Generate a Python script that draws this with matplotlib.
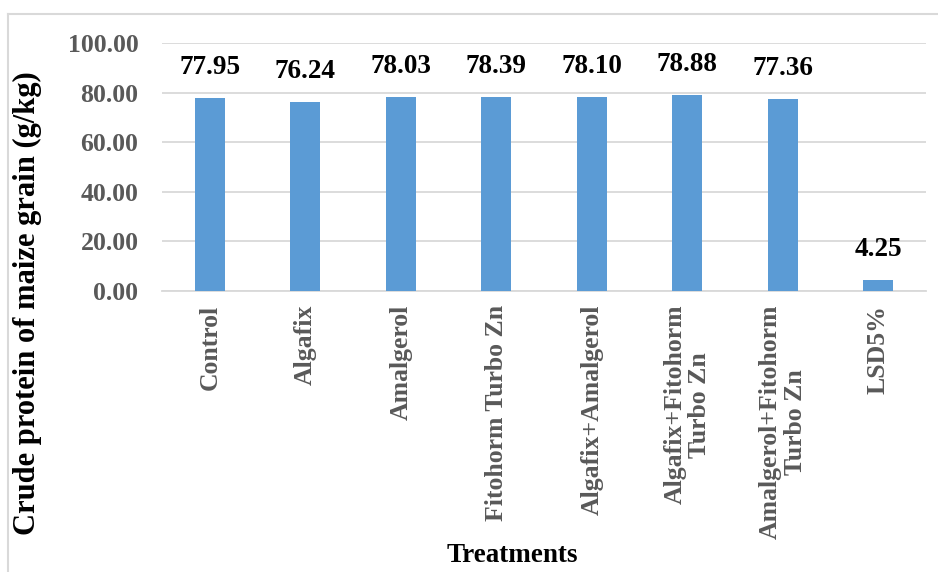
import numpy as np
import matplotlib.pyplot as plt
from matplotlib.lines import Line2D

treatments = ["Control", "Algafix", "Amalgerol", "Fitohorm Turbo Zn",
              "Algafix+Amalgerol", "Algafix+Fitohorm\nTurbo Zn",
              "Amalgerol+Fitohorm\nTurbo Zn", "LSD5%"]
protein = [77.95, 76.24, 78.03, 78.39, 78.10, 78.88, 77.36, 4.25]
yticks = [0, 20, 40, 60, 80, 100]

plt.rcParams['font.family'] = ['Liberation Serif', 'DejaVu Serif']
plt.rcParams['font.weight'] = 'bold'

W, H = 938, 572
fig = plt.figure(figsize=(W / 100, H / 100), dpi=100)
# plot area in pixels: left 162, right 926, top 43 (y=100), bottom 291 (y=0)
ax = fig.add_axes([162 / W, 1 - 291 / H, (926 - 162) / W, (291 - 43) / H])

x = np.arange(len(treatments))
ax.bar(x, protein, width=0.31, color='#5B9BD5', zorder=3)
for xi, v in zip(x, protein):
    ax.annotate(f"{v:.2f}", (xi, v), xytext=(0, 13), textcoords='offset points',
                ha='center', va='bottom', fontsize=19.5, fontweight='bold',
                color='black')

ax.set_xlim(-0.5, len(treatments) - 0.5)
ax.set_ylim(0, 100)
ax.set_yticks(yticks)
ax.set_yticklabels([f"{t:.2f}" for t in yticks])
ax.set_xticks(x)
ax.set_xticklabels(treatments, rotation=90, ha='center', va='top',
                   multialignment='center', linespacing=1.1)
ax.tick_params(axis='both', length=0, labelsize=18.5, labelcolor='#595959')
ax.tick_params(axis='y', pad=17)
ax.tick_params(axis='x', pad=10)
for lbl in ax.get_xticklabels() + ax.get_yticklabels():
    lbl.set_fontweight('bold')

ax.grid(axis='y', color='#D9D9D9', linewidth=1.3, zorder=0)
for s in ['left', 'right', 'top']:
    ax.spines[s].set_visible(False)
ax.spines['bottom'].set_color('#D9D9D9')
ax.spines['bottom'].set_linewidth(1.3)

fig.text(27 / W, 1 - 303 / H, "Crude protein of maize grain (g/kg)",
         rotation=90, ha='center', va='center', fontsize=22,
         fontweight='bold', color='black')
fig.text(512 / W, 1 - 555 / H, "Treatments", ha='center', va='center',
         fontsize=19.5, fontweight='bold', color='black')

# outer chart border (top and left visible)
fig.add_artist(Line2D([8 / W, 1], [1 - 14 / H, 1 - 14 / H],
                      transform=fig.transFigure, color='#D9D9D9', lw=1.5))
fig.add_artist(Line2D([8 / W, 8 / W], [1 - 14 / H, 0],
                      transform=fig.transFigure, color='#D9D9D9', lw=1.5))

fig.savefig("out.png", dpi=100)
